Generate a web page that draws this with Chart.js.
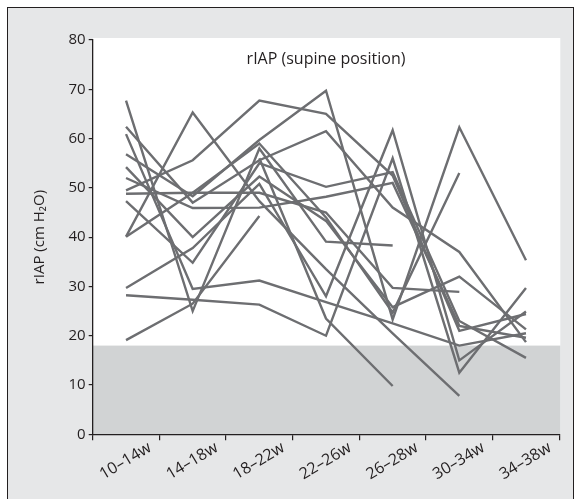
<!DOCTYPE html>
<html>
<head>
<meta charset="utf-8">
<script src="https://cdn.jsdelivr.net/npm/chart.js@4.4.1/dist/chart.umd.min.js"></script>
<style>
  html, body { margin: 0; padding: 0; background: #fff; }
</style>
</head>
<body>
<canvas id="chart" width="580" height="499"></canvas>
<script>
// Gestational week windows (x categories)
const weeks = ['10–14w', '14–18w', '18–22w', '22–26w', '26–28w', '30–34w', '34–38w'];

// y axis ticks (cm H2O)
const yTicks = [0, 10, 20, 30, 40, 50, 60, 70, 80];

// upper bound of the shaded (normal) band
const normalLimit = 18;

// rIAP per patient, one value per week window (null = not measured)
const p01 = [49.5, 55.6, 67.7, 65.0, 52.5, 21.0, 24.4];
const p02 = [56.8, 48.3, 59.7, 69.7, 23.3, 62.3, 35.3];
const p03 = [67.7, 25.0, 58.0, 39.1, 38.3, null, null];
const p04 = [19.1, 26.5, 44.3, null, null, null, null];
const p05 = [28.2, 27.3, 26.3, 20.0, 56.0, 12.5, 29.7];
const p06 = [60.9, 29.5, 31.2, 26.8, 22.5, 18.0, 20.5];
const p07 = [29.7, 37.8, 50.8, 28.0, 61.7, 15.0, 24.9];
const p08 = [62.4, 47.0, 55.6, 61.5, 46.0, 37.0, 18.7];
const p09 = [48.8, 49.0, 49.0, 45.0, 29.7, 28.9, null];
const p10 = [52.0, 45.9, 46.0, 48.2, 51.0, 22.0, 19.6];
const p11 = [47.3, 34.8, 55.0, 50.2, 53.2, 23.0, 15.5];
const p12 = [54.2, 40.0, 52.3, 43.3, 25.8, 32.0, 21.3];
const p13 = [40.1, 65.3, 47.3, 33.5, 20.5, 7.8, null];
const p14 = [40.1, 49.0, 59.0, 44.0, 24.7, 53.0, null];
const p15 = [null, null, 56.0, 23.5, 9.8, null, null];

const patients = [p01, p02, p03, p04, p05, p06, p07, p08, p09, p10, p11, p12, p13, p14, p15];

const INK = '#231f20';
const LINE = '#6d6e71';
const FONT = 'Open Sans, sans-serif';

// Frame, white plot area and the grey band below the normal limit
const backgroundPlugin = {
  id: 'background',
  beforeDraw(chart) {
    const { ctx, chartArea, scales } = chart;
    ctx.save();
    ctx.fillStyle = '#ffffff';
    ctx.fillRect(0, 0, chart.width, chart.height);

    ctx.fillStyle = '#e6e7e8';
    ctx.fillRect(7.5, 7.5, 566, 500);
    ctx.strokeStyle = INK;
    ctx.lineWidth = 1;
    ctx.strokeRect(7.5, 7.5, 566, 500);

    ctx.fillStyle = '#ffffff';
    ctx.fillRect(chartArea.left, chartArea.top - 2, chartArea.right - chartArea.left + 1, chartArea.bottom - chartArea.top + 2);

    const yTop = scales.y.getPixelForValue(normalLimit);
    ctx.fillStyle = '#d1d3d4';
    ctx.fillRect(chartArea.left, yTop, chartArea.right - chartArea.left + 1, chartArea.bottom - yTop);
    ctx.restore();
  },
  beforeDatasetsDraw(chart) {
    const { ctx, chartArea } = chart;
    ctx.save();
    ctx.fillStyle = INK;
    ctx.font = '16px ' + FONT;
    ctx.textAlign = 'center';
    ctx.textBaseline = 'middle';
    ctx.fillText('rIAP (supine position)', (chartArea.left + chartArea.right) / 2, 59);
    ctx.restore();
  }
};

new Chart(document.getElementById('chart'), {
  type: 'line',
  data: {
    labels: weeks,
    datasets: patients.map((values, i) => ({
      label: 'Patient ' + (i + 1),
      data: values,
      borderColor: LINE,
      borderWidth: 2.4,
      pointRadius: 0,
      tension: 0,
      fill: false
    }))
  },
  options: {
    responsive: false,
    animation: false,
    layout: { padding: { top: 40, right: 20.7, left: 0, bottom: 0 } },
    plugins: {
      legend: { display: false },
      tooltip: { enabled: false }
    },
    scales: {
      x: {
        offset: true,
        grid: { offset: true, drawOnChartArea: false, tickLength: 6, color: INK, lineWidth: 1.2 },
        border: { color: INK, width: 1.3 },
        ticks: {
          autoSkip: false,
          minRotation: 31,
          maxRotation: 31,
          labelOffset: 24,
          padding: -2,
          color: INK,
          font: { family: FONT, size: 16 }
        },
        afterFit(scale) { scale.height = 64.7; }
      },
      y: {
        min: yTicks[0],
        max: yTicks[yTicks.length - 1],
        ticks: {
          stepSize: yTicks[1] - yTicks[0],
          padding: 3,
          color: INK,
          font: { family: FONT, size: 15 }
        },
        grid: { drawOnChartArea: false, tickLength: 4, color: INK, lineWidth: 1.2 },
        border: { color: INK, width: 1.3 },
        title: {
          display: true,
          text: 'rIAP (cm H₂O)',
          color: INK,
          font: { family: FONT, size: 15 },
          padding: { top: 31, bottom: 0 }
        },
        afterFit(scale) { scale.width = 92.7; }
      }
    }
  },
  plugins: [backgroundPlugin]
});
</script>
</body>
</html>
